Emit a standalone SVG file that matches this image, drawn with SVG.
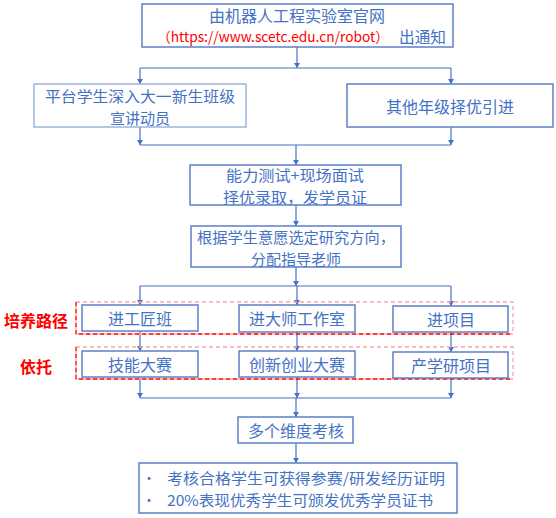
<svg xmlns="http://www.w3.org/2000/svg" width="556" height="518" viewBox="0 0 556 518">
<defs>
<style>
.box{fill:#fff;stroke:#5B80C8;stroke-width:1.5}
.t{font-family:"Noto Sans CJK SC","Noto Sans",sans-serif;font-size:16px;fill:#4472C4;text-anchor:middle;dominant-baseline:central}
.t2{font-size:15px}
.lab{font-family:"Noto Sans CJK SC",sans-serif;font-size:16px;fill:#FF0000;text-anchor:middle;dominant-baseline:central;font-weight:bold}
.c{fill:none;stroke:#4472C4;stroke-width:1.2}
.ca{fill:none;stroke:#4472C4;stroke-width:1.2;marker-end:url(#ah)}
.dp{fill:none;stroke:#F7A8A8;stroke-width:1.3;stroke-dasharray:4,3}
.dr{fill:none;stroke:#FF0000;stroke-width:1.3;stroke-dasharray:4,3}
</style>
<marker id="ah" markerWidth="5" markerHeight="6" refX="5" refY="3" orient="auto" markerUnits="userSpaceOnUse" viewBox="0 0 5 6">
<path d="M0,0 L5,3 L0,6 z" fill="#4472C4"/>
</marker>
</defs>
<g id="connectors">
<line class="ca" x1="297" y1="47" x2="297" y2="68"/>
<line class="c" x1="140" y1="68" x2="451" y2="68"/>
<line class="ca" x1="140" y1="68" x2="140" y2="84"/>
<line class="ca" x1="451" y1="68" x2="451" y2="84"/>
<line class="ca" x1="140" y1="127" x2="140" y2="145"/>
<line class="ca" x1="451" y1="127" x2="451" y2="145"/>
<line class="c" x1="140" y1="145" x2="451" y2="145"/>
<line class="ca" x1="296" y1="145" x2="296" y2="165"/>
<line class="ca" x1="296" y1="205" x2="296" y2="226"/>
<line class="ca" x1="296" y1="267" x2="296" y2="286"/>
<line class="c" x1="140" y1="286" x2="451" y2="286"/>
<line class="ca" x1="140" y1="286" x2="140" y2="305"/>
<line class="ca" x1="297" y1="286" x2="297" y2="305"/>
<line class="ca" x1="451" y1="286" x2="451" y2="306"/>
<line class="ca" x1="140" y1="331" x2="140" y2="351"/>
<line class="ca" x1="297" y1="332" x2="297" y2="351"/>
<line class="ca" x1="451" y1="332" x2="451" y2="352"/>
<line class="ca" x1="140" y1="377" x2="140" y2="398"/>
<line class="ca" x1="297" y1="377" x2="297" y2="398"/>
<line class="ca" x1="451" y1="378" x2="451" y2="398"/>
<line class="c" x1="140" y1="398" x2="451" y2="398"/>
<line class="ca" x1="296" y1="398" x2="296" y2="417"/>
<line class="ca" x1="296" y1="443" x2="296" y2="463"/>
</g>
<g id="groups">
<rect class="dp" x="76" y="302" width="437" height="32"/>
<path class="dr" d="M76,302 V334 H513"/>
<rect class="dp" x="76" y="347" width="437" height="32"/>
<path class="dr" d="M76,347 V379 H513"/>
<text class="lab" x="36" y="320">培养路径</text>
<text class="lab" x="36" y="366">依托</text>
</g>
<g id="n1">
<rect class="box" x="142" y="4" width="311" height="43"/>
<text class="t" x="297" y="15">由机器人工程实验室官网</text>
<text class="t" x="157" y="36" style="text-anchor:start;fill:#FF0000;font-size:14px" textLength="232" lengthAdjust="spacingAndGlyphs">（https://www.scetc.edu.cn/robot）</text>
<text class="t" x="399" y="36" style="text-anchor:start" textLength="47" lengthAdjust="spacingAndGlyphs">出通知</text>
</g>
<g id="n2">
<rect class="box" x="34" y="84" width="212" height="43" style="stroke:#9DB4E0"/>
<text class="t t2" x="140" y="95" textLength="190" lengthAdjust="spacingAndGlyphs">平台学生深入大一新生班级</text>
<text class="t t2" x="140" y="117">宣讲动员</text>
</g>
<g id="n3">
<rect class="box" x="347" y="84" width="206" height="43"/>
<text class="t" x="450" y="106">其他年级择优引进</text>
</g>
<g id="n4">
<rect class="box" x="190" y="165" width="211" height="40"/>
<text class="t t2" x="295" y="174" textLength="138" lengthAdjust="spacingAndGlyphs">能力测试+现场面试</text>
<text class="t t2" x="295" y="196" textLength="144" lengthAdjust="spacingAndGlyphs">择优录取，发学员证</text>
</g>
<g id="n5">
<rect class="box" x="191" y="226" width="210" height="41"/>
<text class="t t2" x="296" y="236" textLength="198" lengthAdjust="spacingAndGlyphs">根据学生意愿选定研究方向，</text>
<text class="t t2" x="296" y="258">分配指导老师</text>
</g>
<g id="n6">
<rect class="box" x="82" y="305" width="116" height="26"/>
<text class="t" x="140" y="318">进工匠班</text>
</g>
<g id="n7">
<rect class="box" x="239" y="305" width="116" height="27"/>
<text class="t" x="297" y="318">进大师工作室</text>
</g>
<g id="n8">
<rect class="box" x="393" y="306" width="115" height="26"/>
<text class="t" x="451" y="319">进项目</text>
</g>
<g id="n9">
<rect class="box" x="82" y="351" width="116" height="26"/>
<text class="t" x="140" y="364">技能大赛</text>
</g>
<g id="n10">
<rect class="box" x="239" y="351" width="116" height="26"/>
<text class="t" x="297" y="364">创新创业大赛</text>
</g>
<g id="n11">
<rect class="box" x="393" y="352" width="115" height="26"/>
<text class="t" x="451" y="365">产学研项目</text>
</g>
<g id="n12">
<rect class="box" x="238" y="417" width="115" height="26"/>
<text class="t" x="296" y="430">多个维度考核</text>
</g>
<g id="n13">
<rect class="box" x="139" y="463" width="318" height="50"/>
<text class="t" x="149" y="477" style="font-size:14px">•</text>
<text class="t" x="149" y="499" style="font-size:14px">•</text>
<text class="t t2" x="167" y="477" style="text-anchor:start" textLength="278" lengthAdjust="spacingAndGlyphs">考核合格学生可获得参赛/研发经历证明</text>
<text class="t t2" x="167" y="499" style="text-anchor:start" textLength="266" lengthAdjust="spacingAndGlyphs">20%表现优秀学生可颁发优秀学员证书</text>
</g>
</svg>
